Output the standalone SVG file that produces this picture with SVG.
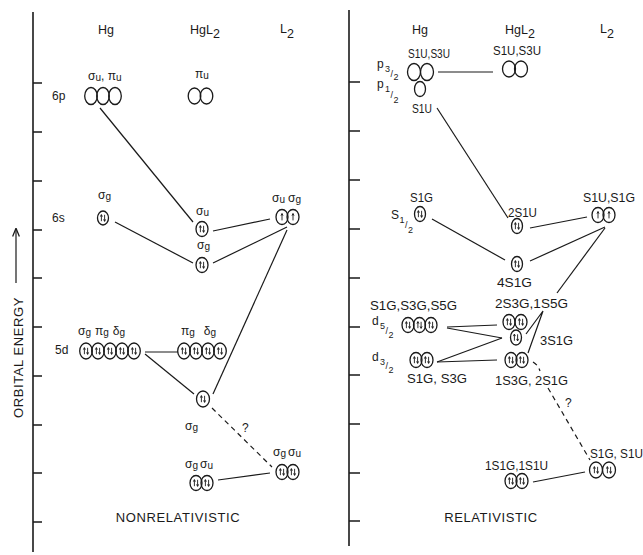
<svg xmlns="http://www.w3.org/2000/svg" xmlns:xlink="http://www.w3.org/1999/xlink" width="643" height="555" viewBox="0 0 643 555">
<style>
  text { font-family: "Liberation Sans", "DejaVu Sans", sans-serif; fill: #1a1a1a; }
  .h { font-size: 12.5px; }
  .t { font-size: 12px; }
  .s { font-size: 10px; }
  .f { font-size: 9px; }
  .big { font-size: 13px; letter-spacing: 0.6px; }
  .ax { stroke: #1a1a1a; stroke-width: 1.6; fill: none; }
  .tick { stroke: #1a1a1a; stroke-width: 1.4; fill: none; }
  .orb { stroke: #1a1a1a; stroke-width: 1.3; fill: none; }
  .ln { stroke: #1a1a1a; stroke-width: 1.2; fill: none; }
  .dash { stroke: #1a1a1a; stroke-width: 1.2; fill: none; stroke-dasharray: 5 4; }
  .el { stroke: #1a1a1a; stroke-width: 0.9; fill: none; }
</style>
<defs>
  <!-- electron pair: up and down arrows -->
  <g id="e2" class="el"><path d="M-1.6,3.2V-3.2M-2.6,-1.4L-1.6,-3.4L-0.6,-1.4M1.6,-3.2V3.2M0.6,1.4L1.6,3.4L2.6,1.4"/></g>
  <!-- single electron -->
  <g id="e1" class="el"><path d="M0,3.4V-3.4M-1,-1.4L0,-3.4L1,-1.4"/></g>
  <marker id="arr" viewBox="0 0 10 10" refX="9" refY="5" markerWidth="7" markerHeight="7" orient="auto">
    <path d="M0,1 L10,5 L0,9" fill="none" stroke="#1a1a1a" stroke-width="1.5"/>
  </marker>
</defs>
<rect width="643" height="555" fill="#ffffff"/>

<!-- energy axes -->
<g id="axes">
  <path class="ax" d="M33,12V552"/>
  <path class="tick" d="M33,83h9M33,132h9M33,181h9M33,230h9M33,278h9M33,327h9M33,376h9M33,425h9M33,473h9M33,522h9"/>
  <path class="ax" d="M349,10V546"/>
  <path class="tick" d="M349,82h11M349,131h11M349,180h11M349,229h11M349,278h11M349,327h11M349,375h11M349,424h11M349,473h11M349,521h11"/>
  <text class="big" transform="translate(23,418) rotate(-90)">ORBITAL ENERGY</text>
  <path class="ln" d="M16,283V229" marker-end="url(#arr)"/>
</g>

<!-- column headers and panel titles -->
<g id="headers">
  <text class="h" x="98" y="34">Hg</text>
  <text class="h" x="190" y="34">HgL<tspan dy="4">2</tspan></text>
  <text class="h" x="280" y="33">L<tspan dy="5">2</tspan></text>
  <text class="h" x="412" y="34">Hg</text>
  <text class="h" x="505" y="34">HgL<tspan dy="4">2</tspan></text>
  <text class="h" x="600" y="33">L<tspan dy="5">2</tspan></text>
  <text class="big" x="178" y="522" text-anchor="middle">NONRELATIVISTIC</text>
  <text class="big" x="491" y="522" text-anchor="middle" letter-spacing="0.9">RELATIVISTIC</text>
</g>

<!-- connectors -->
<g id="connectors">
  <!-- nonrelativistic -->
  <path class="ln" d="M100,108L193,222"/>
  <path class="ln" d="M115,222L193,263"/>
  <path class="ln" d="M213,231L270,219"/>
  <path class="ln" d="M213,263L287,227"/>
  <path class="ln" d="M287,230L213,394"/>
  <path class="ln" d="M145,352L178,352"/>
  <path class="ln" d="M145,354L194,394"/>
  <path class="dash" d="M212,408L272,467"/>
  <path class="ln" d="M218,480L270,473"/>
  <!-- relativistic -->
  <path class="ln" d="M438,72L493,72"/>
  <path class="ln" d="M437,108L508,218"/>
  <path class="ln" d="M432,219L505,260"/>
  <path class="ln" d="M530,228L587,217"/>
  <path class="ln" d="M530,261L605,227"/>
  <path class="ln" d="M605,228L557,293"/>
  <path class="ln" d="M543,311L526,334M543,311L528,353"/>
  <path class="ln" d="M447,327L497,325"/>
  <path class="ln" d="M447,328L502,338"/>
  <path class="ln" d="M437,362L502,338"/>
  <path class="ln" d="M437,362L497,360"/>
  <path class="dash" d="M533,362Q538,365 540,371M548,388L590,460"/>
  <path class="ln" d="M533,482L585,472"/>
</g>

<!-- nonrelativistic levels -->
<g id="nr-hg-6p">
  <text class="t" x="52" y="100">6p</text>
  <text class="t" x="88" y="80">σ<tspan class="s" dy="1">u</tspan><tspan dy="-1">, π</tspan><tspan class="s" dy="1">u</tspan></text>
  <ellipse class="orb" cx="91" cy="96" rx="6.3" ry="8.5"/>
  <ellipse class="orb" cx="103" cy="96" rx="6.3" ry="8.5"/>
  <ellipse class="orb" cx="115" cy="96" rx="6.3" ry="8.5"/>
</g>
<g id="nr-hgl2-pu">
  <text class="t" x="195" y="78">π<tspan class="s" dy="1">u</tspan></text>
  <ellipse class="orb" cx="194.5" cy="96" rx="6.3" ry="8"/>
  <ellipse class="orb" cx="206.5" cy="96" rx="6.3" ry="8"/>
</g>
<g id="nr-hg-6s">
  <text class="t" x="52" y="222">6s</text>
  <text class="t" x="98" y="199">σ<tspan class="s" dy="1">g</tspan></text>
  <ellipse class="orb" cx="103" cy="218" rx="5.5" ry="7"/>
  <use xlink:href="#e2" x="103" y="218"/>
</g>
<g id="nr-hgl2-su">
  <text class="t" x="196" y="215">σ<tspan class="s" dy="1">u</tspan></text>
  <ellipse class="orb" cx="202" cy="229" rx="6" ry="7.5"/>
  <use xlink:href="#e2" x="202" y="229"/>
</g>
<g id="nr-hgl2-sg">
  <text class="t" x="197" y="249">σ<tspan class="s" dy="1">g</tspan></text>
  <ellipse class="orb" cx="202" cy="265" rx="6" ry="7.5"/>
  <use xlink:href="#e2" x="202" y="265"/>
</g>
<g id="nr-l2-top">
  <text class="t" x="272" y="202">σ<tspan class="s" dy="1">u</tspan><tspan dx="3" dy="-1">σ</tspan><tspan class="s" dy="1">g</tspan></text>
  <ellipse class="orb" cx="282" cy="217" rx="6" ry="7.5"/>
  <ellipse class="orb" cx="293" cy="217" rx="6" ry="7.5"/>
  <use xlink:href="#e1" x="282" y="217"/>
  <use xlink:href="#e1" x="293" y="217"/>
</g>
<g id="nr-hg-5d">
  <text class="t" x="55" y="354">5d</text>
  <text class="t" x="78" y="335">σ<tspan class="s" dy="1">g</tspan><tspan dx="4" dy="-1">π</tspan><tspan class="s" dy="1">g</tspan><tspan dx="4" dy="-1">δ</tspan><tspan class="s" dy="1">g</tspan></text>
  <ellipse class="orb" cx="86" cy="351" rx="6.3" ry="8"/>
  <ellipse class="orb" cx="98" cy="351" rx="6.3" ry="8"/>
  <ellipse class="orb" cx="110" cy="351" rx="6.3" ry="8"/>
  <ellipse class="orb" cx="122" cy="351" rx="6.3" ry="8"/>
  <ellipse class="orb" cx="134" cy="351" rx="6.3" ry="8"/>
  <use xlink:href="#e2" x="86" y="351"/>
  <use xlink:href="#e2" x="98" y="351"/>
  <use xlink:href="#e2" x="110" y="351"/>
  <use xlink:href="#e2" x="122" y="351"/>
  <use xlink:href="#e2" x="134" y="351"/>
</g>
<g id="nr-hgl2-d">
  <text class="t" x="181" y="335">π<tspan class="s" dy="1">g</tspan><tspan dx="9" dy="-1">δ</tspan><tspan class="s" dy="1">g</tspan></text>
  <ellipse class="orb" cx="184" cy="351" rx="6.3" ry="8"/>
  <ellipse class="orb" cx="196" cy="351" rx="6.3" ry="8"/>
  <ellipse class="orb" cx="208" cy="351" rx="6.3" ry="8"/>
  <ellipse class="orb" cx="220" cy="351" rx="6.3" ry="8"/>
  <use xlink:href="#e2" x="184" y="351"/>
  <use xlink:href="#e2" x="196" y="351"/>
  <use xlink:href="#e2" x="208" y="351"/>
  <use xlink:href="#e2" x="220" y="351"/>
</g>
<g id="nr-hgl2-sg-low">
  <ellipse class="orb" cx="203" cy="399" rx="6.5" ry="8"/>
  <use xlink:href="#e2" x="203" y="399"/>
  <text class="t" x="185" y="430">σ<tspan class="s" dy="1">g</tspan></text>
  <text class="t" x="242" y="432">?</text>
</g>
<g id="nr-l2-low">
  <text class="t" x="273" y="456">σ<tspan class="s" dy="1">g</tspan><tspan dx="2" dy="-1">σ</tspan><tspan class="s" dy="1">u</tspan></text>
  <ellipse class="orb" cx="282" cy="472" rx="6" ry="7.5"/>
  <ellipse class="orb" cx="293" cy="472" rx="6" ry="7.5"/>
  <use xlink:href="#e2" x="282" y="472"/>
  <use xlink:href="#e2" x="293" y="472"/>
</g>
<g id="nr-hgl2-low">
  <text class="t" x="185" y="468">σ<tspan class="s" dy="1">g</tspan><tspan dx="2" dy="-1">σ</tspan><tspan class="s" dy="1">u</tspan></text>
  <ellipse class="orb" cx="196" cy="483" rx="6" ry="7.5"/>
  <ellipse class="orb" cx="207" cy="483" rx="6" ry="7.5"/>
  <use xlink:href="#e2" x="196" y="483"/>
  <use xlink:href="#e2" x="207" y="483"/>
</g>

<!-- relativistic levels -->
<g id="r-hg-p32">
  <text class="t" x="408" y="58" textLength="42" lengthAdjust="spacingAndGlyphs">S1U,S3U</text>
  <text class="t" x="377" y="68">p<tspan class="f" x="385" y="72">3</tspan><tspan class="f" x="390.5" y="77">/</tspan><tspan class="f" x="393.5" y="80">2</tspan></text>
  <ellipse class="orb" cx="414" cy="72" rx="6.5" ry="8.5"/>
  <ellipse class="orb" cx="427" cy="72" rx="6.5" ry="8.5"/>
</g>
<g id="r-hg-p12">
  <text class="t" x="377" y="88">p<tspan class="f" x="385" y="92">1</tspan><tspan class="f" x="390.5" y="98">/</tspan><tspan class="f" x="393.5" y="103">2</tspan></text>
  <ellipse class="orb" cx="420" cy="89" rx="5.5" ry="7.5"/>
  <text class="t" x="412" y="113" textLength="20" lengthAdjust="spacingAndGlyphs">S1U</text>
</g>
<g id="r-hgl2-p">
  <text class="t" x="493" y="55" textLength="48" lengthAdjust="spacingAndGlyphs">S1U,S3U</text>
  <ellipse class="orb" cx="509" cy="69" rx="6.5" ry="8"/>
  <ellipse class="orb" cx="521" cy="69" rx="6.5" ry="8"/>
</g>
<g id="r-hg-s12">
  <text class="t" x="410" y="202" textLength="23" lengthAdjust="spacingAndGlyphs">S1G</text>
  <text class="t" x="391" y="219">S<tspan class="f" x="399.5" y="223">1</tspan><tspan class="f" x="405" y="228">/</tspan><tspan class="f" x="408" y="233">2</tspan></text>
  <ellipse class="orb" cx="420" cy="214" rx="5.5" ry="7.5"/>
  <use xlink:href="#e2" x="420" y="214"/>
</g>
<g id="r-hgl2-2s1u">
  <text class="t" x="508" y="217" textLength="29" lengthAdjust="spacingAndGlyphs">2S1U</text>
  <ellipse class="orb" cx="517" cy="226" rx="5.5" ry="7.5"/>
  <use xlink:href="#e2" x="517" y="226"/>
</g>
<g id="r-hgl2-4s1g">
  <ellipse class="orb" cx="517" cy="264" rx="5.5" ry="7.5"/>
  <use xlink:href="#e2" x="517" y="264"/>
  <text class="t" x="497" y="287" textLength="35" lengthAdjust="spacingAndGlyphs">4S1G</text>
</g>
<g id="r-l2-top">
  <text class="t" x="583" y="202" textLength="52" lengthAdjust="spacingAndGlyphs">S1U,S1G</text>
  <ellipse class="orb" cx="598" cy="215" rx="6" ry="7.5"/>
  <ellipse class="orb" cx="609" cy="215" rx="6" ry="7.5"/>
  <use xlink:href="#e1" x="598" y="215"/>
  <use xlink:href="#e1" x="609" y="215"/>
</g>
<g id="r-hg-d52">
  <text class="t" x="370" y="310" textLength="87" lengthAdjust="spacingAndGlyphs">S1G,S3G,S5G</text>
  <text class="t" x="372" y="325">d<tspan class="f" x="380" y="329">5</tspan><tspan class="f" x="385.5" y="334">/</tspan><tspan class="f" x="388.5" y="338">2</tspan></text>
  <ellipse class="orb" cx="408" cy="325" rx="6" ry="7.5"/>
  <ellipse class="orb" cx="419.5" cy="325" rx="6" ry="7.5"/>
  <ellipse class="orb" cx="431" cy="325" rx="6" ry="7.5"/>
  <use xlink:href="#e2" x="408" y="325"/>
  <use xlink:href="#e2" x="419.5" y="325"/>
  <use xlink:href="#e2" x="431" y="325"/>
</g>
<g id="r-hg-d32">
  <text class="t" x="372" y="361">d<tspan class="f" x="380" y="365">3</tspan><tspan class="f" x="385.5" y="369">/</tspan><tspan class="f" x="388.5" y="373">2</tspan></text>
  <ellipse class="orb" cx="416" cy="360" rx="6" ry="7.5"/>
  <ellipse class="orb" cx="427" cy="360" rx="6" ry="7.5"/>
  <use xlink:href="#e2" x="416" y="360"/>
  <use xlink:href="#e2" x="427" y="360"/>
  <text class="t" x="407" y="383" textLength="60" lengthAdjust="spacingAndGlyphs">S1G, S3G</text>
</g>
<g id="r-hgl2-2s3g">
  <text class="t" x="495" y="308" textLength="73" lengthAdjust="spacingAndGlyphs">2S3G,1S5G</text>
  <ellipse class="orb" cx="509" cy="322" rx="6" ry="7.5"/>
  <ellipse class="orb" cx="521" cy="322" rx="6" ry="7.5"/>
  <use xlink:href="#e2" x="509" y="322"/>
  <use xlink:href="#e2" x="521" y="322"/>
</g>
<g id="r-hgl2-3s1g">
  <ellipse class="orb" cx="516" cy="337.5" rx="5.5" ry="7.5"/>
  <use xlink:href="#e2" x="516" y="337.5"/>
  <text class="t" x="540" y="345" textLength="33" lengthAdjust="spacingAndGlyphs">3S1G</text>
</g>
<g id="r-hgl2-1s3g">
  <ellipse class="orb" cx="511" cy="360" rx="6" ry="7.5"/>
  <ellipse class="orb" cx="522" cy="360" rx="6" ry="7.5"/>
  <use xlink:href="#e2" x="511" y="360"/>
  <use xlink:href="#e2" x="522" y="360"/>
  <text class="t" x="495" y="385" textLength="73" lengthAdjust="spacingAndGlyphs">1S3G, 2S1G</text>
  <text class="t" x="565" y="407">?</text>
</g>
<g id="r-l2-low">
  <text class="t" x="590" y="458" textLength="53" lengthAdjust="spacingAndGlyphs">S1G, S1U</text>
  <ellipse class="orb" cx="596" cy="470" rx="6.5" ry="8"/>
  <ellipse class="orb" cx="609" cy="470" rx="6.5" ry="8"/>
  <use xlink:href="#e2" x="596" y="470"/>
  <use xlink:href="#e2" x="609" y="470"/>
</g>
<g id="r-hgl2-low">
  <text class="t" x="485" y="470" textLength="63" lengthAdjust="spacingAndGlyphs">1S1G,1S1U</text>
  <ellipse class="orb" cx="511" cy="481" rx="6" ry="7.5"/>
  <ellipse class="orb" cx="522" cy="481" rx="6" ry="7.5"/>
  <use xlink:href="#e2" x="511" y="481"/>
  <use xlink:href="#e2" x="522" y="481"/>
</g>
</svg>
